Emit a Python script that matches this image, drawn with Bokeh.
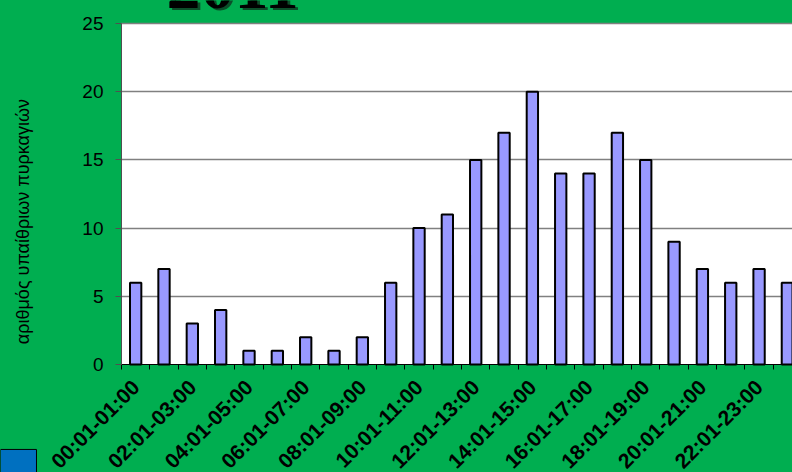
import math
from bokeh.plotting import figure
from bokeh.models import ColumnDataSource, FixedTicker, Range1d, Label, BoxAnnotation
from bokeh.embed import file_html
from bokeh.resources import INLINE

# ---- data ----
hours = ["00:01-01:00", "01:01-02:00", "02:01-03:00", "03:01-04:00",
         "04:01-05:00", "05:01-06:00", "06:01-07:00", "07:01-08:00",
         "08:01-09:00", "09:01-10:00", "10:01-11:00", "11:01-12:00",
         "12:01-13:00", "13:01-14:00", "14:01-15:00", "15:01-16:00",
         "16:01-17:00", "17:01-18:00", "18:01-19:00", "19:01-20:00",
         "20:01-21:00", "21:01-22:00", "22:01-23:00", "23:01-24:00"]
fires = [6, 7, 3, 4, 1, 1, 2, 1, 2, 6, 10, 11, 15, 17, 20, 14, 14, 17, 15, 9, 7, 6, 7, 6]
y_ticks = [0, 5, 10, 15, 20, 25]
title_text = "2011"
y_label = "αριθμός υπαίθριων πυρκαγιών"

GREEN = "#00AE50"
X_END = 23.68      # visible part of the category axis (chart is cut at the right)
Y_MAX = 25

centers = [i + 0.5 for i in range(len(hours))]
src = ColumnDataSource(dict(x=centers, top=fires, hour=hours))

# the frame covers the whole canvas; axes are pinned at data 0
p = figure(width=792, height=472, output_backend="svg", toolbar_location=None,
           x_range=Range1d(-4.27, X_END), y_range=Range1d(-7.92, 26.69))
p.min_border = 0
p.min_border_left = 0
p.min_border_right = 0
p.min_border_top = 0
p.min_border_bottom = 0
p.background_fill_color = GREEN
p.border_fill_color = GREEN
p.outline_line_color = None

# white plot area
p.add_layout(BoxAnnotation(left=0, right=X_END, bottom=0, top=Y_MAX,
                           fill_color="white", fill_alpha=1.0, line_color=None,
                           level="image"))

p.vbar(x="x", top="top", width=0.40, source=src,
       fill_color="#9999FF", line_color="black", line_width=2)

# y axis
ya = p.yaxis[0]
ya.fixed_location = 0
ya.bounds = (0, Y_MAX)
ya.ticker = FixedTicker(ticks=y_ticks)
ya.axis_line_color = "#505050"
ya.major_tick_line_color = "#505050"
ya.major_tick_out = 6
ya.major_tick_in = 0
ya.minor_tick_line_color = None
ya.major_label_text_font = "Liberation Sans"
ya.major_label_text_font_size = "19px"
ya.major_label_text_color = "black"
ya.major_label_standoff = 12

# x axis
xa = p.xaxis[0]
xa.fixed_location = 0
xa.bounds = (0, X_END)
label_pos = [centers[i] for i in range(0, len(hours), 2)]
xa.ticker = FixedTicker(ticks=label_pos, minor_ticks=list(range(len(hours) + 1)))
xa.major_label_overrides = {centers[i]: hours[i] for i in range(0, len(hours), 2)}
xa.axis_line_color = "black"
xa.major_tick_out = 0
xa.major_tick_in = 0
xa.minor_tick_out = 5
xa.minor_tick_in = 0
xa.minor_tick_line_color = "black"
xa.major_label_orientation = math.pi / 4
xa.major_label_text_font = "Liberation Sans"
xa.major_label_text_font_style = "bold"
xa.major_label_text_font_size = "21px"
xa.major_label_text_color = "black"
xa.major_label_standoff = 14

# grid
p.xgrid.grid_line_color = None
p.ygrid.ticker = FixedTicker(ticks=y_ticks[1:])
p.ygrid.grid_line_color = "#808080"
p.ygrid.grid_line_width = 1.5
try:
    p.ygrid.cross_bounds = (0, X_END)
except Exception:
    p.ygrid.grid_line_color = None
    p.segment(x0=0, x1=X_END, y0=y_ticks[1:], y1=y_ticks[1:],
              line_color="#808080", line_width=1.5, level="underlay")

# y label (Greek)
p.add_layout(Label(x=-3.49, y=10.48, text=y_label, angle=math.pi / 2,
                   text_align="center", text_baseline="middle",
                   text_font="Liberation Sans", text_font_size="18px",
                   text_color="black"))

# title (cut off at top), with shadow
p.add_layout(Label(x=4.02, y=27.58, text=title_text, text_align="center",
                   text_baseline="alphabetic", text_font="Liberation Serif",
                   text_font_style="bold", text_font_size="68px",
                   text_color="#0b4f2a"))
p.add_layout(Label(x=3.92, y=27.78, text=title_text, text_align="center",
                   text_baseline="alphabetic", text_font="Liberation Serif",
                   text_font_style="bold", text_font_size="68px",
                   text_color="black"))

# small blue square bottom-left
p.add_layout(BoxAnnotation(left=-4.27, right=-3.0, top=-6.23, bottom=-7.92,
                           fill_color="#0070C0", fill_alpha=1.0,
                           line_color="black", line_width=1, line_alpha=1.0))

html = file_html(p, INLINE, title="2011")
html = html.replace("</head>",
                    "<style>html,body{margin:0;padding:0;overflow:hidden;background:%s}</style></head>" % GREEN, 1)
open("out.html", "w").write(html)
